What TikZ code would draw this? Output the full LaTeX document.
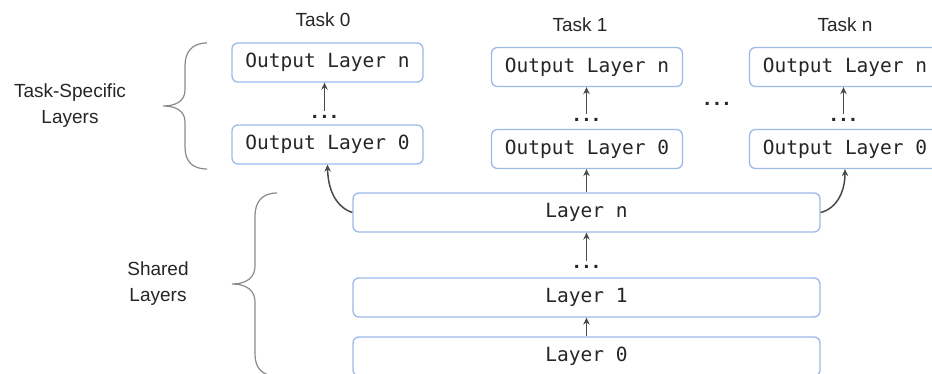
\documentclass[tikz,border=0pt]{standalone}
\usepackage{fontspec}
\setmainfont{Liberation Sans}
\newfontfamily\monof{DejaVu Sans Mono}
\usetikzlibrary{arrows.meta}
\definecolor{boxblue}{HTML}{9DB9E8}
\definecolor{txt}{HTML}{262626}
\definecolor{arr}{HTML}{4A4A4A}
\definecolor{brc}{HTML}{8A8A8A}
\newcommand{\tdots}{.\kern3.8pt.\kern3.8pt.}
\tikzset{
  lbox/.style={draw=boxblue, line width=1.3pt, rounded corners=6pt, fill=white,
    inner sep=0pt, text=txt, font=\monof\fontsize{19.5}{22}\selectfont},
  obox/.style={lbox, minimum width=191pt, minimum height=39pt},
  wbox/.style={lbox, minimum width=467pt, minimum height=39pt},
  dots/.style={inner sep=0pt, text=txt, font=\bfseries\fontsize{21}{22}\selectfont},
  lab/.style={inner sep=0pt, text=txt, font=\fontsize{19}{26}\selectfont, align=center},
  conn/.style={draw=arr, line width=1.5pt, -{Stealth[length=7pt,width=6.5pt]}},
  brace/.style={draw=brc, line width=1.2pt},
}
\begin{document}
\begin{tikzpicture}[x=1pt,y=-1pt]
\useasboundingbox (0,0) rectangle (932,374);
\clip (0,0) rectangle (932,374);
% task labels
\node[lab] (task0) at (323,20) {Task 0};
\node[lab] (task1) at (580,25) {Task 1};
\node[lab] (taskn) at (845,25) {Task n};
% task 0
\node[obox] (t0n) at (327.5,62.5) {Output Layer n};
\node[obox] (t00) at (327.5,144.5) {Output Layer 0};
\node[dots] (d0) at (324.5,117) {\tdots};
% task 1
\node[obox] (t1n) at (587,67) {Output Layer n};
\node[obox] (t10) at (587,149) {Output Layer 0};
\node[dots] (d1) at (586.5,120) {\tdots};
% task n
\node[obox] (tnn) at (845,67) {Output Layer n};
\node[obox] (tn0) at (845,149) {Output Layer 0};
\node[dots] (dn) at (843.5,120) {\tdots};
% middle dots
\node[dots] (dm) at (717,104) {\tdots};
% shared layers
\node[wbox] (ln) at (586.5,212.5) {Layer n};
\node[wbox] (l1) at (586.5,297.5) {Layer 1};
\node[wbox] (l0) at (586.5,356.5) {Layer 0};
\node[dots] (dl) at (586.5,267) {\tdots};
% side labels
\node[lab] (tsl) at (70,106) {Task-Specific\\Layers};
\node[lab] (shl) at (158,284) {Shared\\Layers};
% connectors
\draw[conn, shorten <=4pt] (d0.north) -- (d0.north |- t0n.south);
\draw[conn, shorten <=4pt] (d1.north) -- (d1.north |- t1n.south);
\draw[conn, shorten <=4pt] (dn.north) -- (dn.north |- tnn.south);
\draw[conn] (l0.north -| dl.north) -- (l1.south -| dl.north);
\draw[conn, shorten <=4pt] (dl.north) -- (dl.north |- ln.south);
\draw[conn] (ln.north -| d1.north) -- (t10.south -| d1.north);
\draw[conn] (ln.west) .. controls (336,207) and (328,190) .. (t00.south);
\draw[conn] (ln.east) .. controls (838,208) and (845,190) .. (tn0.south);
% braces
\draw[brace] (207,43) .. controls (192,43) and (185,52) .. (185,66)
  -- (185,90) .. controls (185,101) and (176,106) .. (163,106)
  .. controls (176,106) and (185,111) .. (185,122)
  -- (185,147) .. controls (185,161) and (192,169) .. (207,169);
\draw[brace] (277,193) .. controls (262,193) and (255,202) .. (255,216)
  -- (255,266) .. controls (255,278) and (246,284) .. (232,284)
  .. controls (246,284) and (255,290) .. (255,302)
  -- (255,354) .. controls (255,368) and (262,376) .. (277,376);
\end{tikzpicture}
\end{document}
